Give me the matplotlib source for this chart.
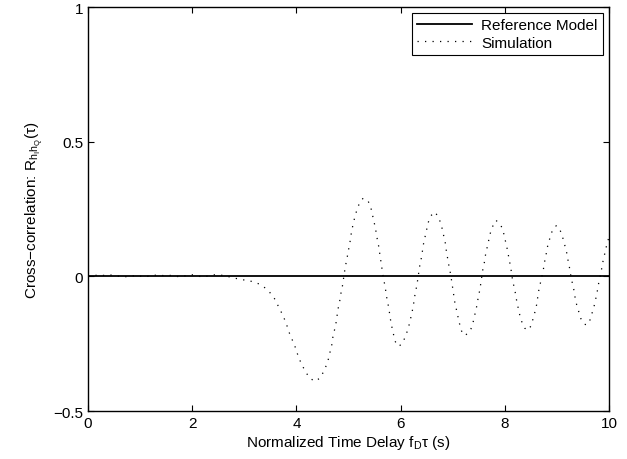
import matplotlib
matplotlib.use("Agg")
import matplotlib.pyplot as plt

plt.rcParams['font.family'] = ['Liberation Sans', 'DejaVu Sans']
plt.rcParams['mathtext.fontset'] = 'custom'
plt.rcParams['mathtext.rm'] = 'Liberation Sans'
plt.rcParams['mathtext.default'] = 'regular'

# reference model: zero cross-correlation
ref_x = [0, 10]
ref_y = [0, 0]

# simulation curve
sim_x = [0.0, 0.13, 0.27, 0.4, 0.54, 0.67, 0.81, 0.94, 1.08, 1.21, 1.35, 1.48,
         1.62, 1.75, 1.89, 2.02, 2.2, 2.34, 2.47, 2.6, 2.74, 2.87, 3.01, 3.15,
         3.28, 3.40, 3.49, 3.58, 3.64, 3.70, 3.76, 3.81, 3.85, 3.90, 3.96, 4.0,
         4.05, 4.10, 4.17, 4.24, 4.35, 4.46, 4.52, 4.58, 4.62, 4.65, 4.68, 4.70,
         4.73, 4.76, 4.78, 4.80, 4.83, 4.85, 4.88, 4.90, 4.92, 4.94, 4.97, 4.99,
         5.02, 5.04, 5.06, 5.09, 5.12, 5.16, 5.21, 5.28, 5.38, 5.43, 5.46, 5.49,
         5.52, 5.54, 5.57, 5.59, 5.61, 5.63, 5.65, 5.67, 5.70, 5.72, 5.74, 5.77,
         5.79, 5.81, 5.85, 5.90, 5.96, 6.03, 6.10, 6.15, 6.18, 6.21, 6.24, 6.26,
         6.28, 6.31, 6.33, 6.35, 6.37, 6.40, 6.42, 6.44, 6.47, 6.50, 6.53, 6.58,
         6.66, 6.73, 6.78, 6.81, 6.84, 6.87, 6.88, 6.91, 6.93, 6.96, 6.98, 7.0,
         7.02, 7.04, 7.07, 7.10, 7.13, 7.17, 7.23, 7.30, 7.35, 7.38, 7.41, 7.44,
         7.47, 7.49, 7.52, 7.54, 7.56, 7.58, 7.61, 7.63, 7.66, 7.69, 7.72, 7.76,
         7.83, 7.92, 7.97, 8.0, 8.03, 8.06, 8.08, 8.11, 8.13, 8.15, 8.18, 8.21,
         8.23, 8.26, 8.29, 8.33, 8.38, 8.44, 8.50, 8.54, 8.58, 8.61, 8.63, 8.65,
         8.68, 8.71, 8.74, 8.76, 8.79, 8.81, 8.85, 8.88, 8.94, 8.99, 9.04, 9.10,
         9.13, 9.17, 9.20, 9.22, 9.25, 9.27, 9.30, 9.33, 9.35, 9.38, 9.42, 9.46,
         9.53, 9.58, 9.63, 9.67, 9.71, 9.74, 9.77, 9.79, 9.82, 9.85, 9.87, 9.90,
         9.93, 9.96, 10.0]
sim_y = [0.0, 0.004, 0.003, 0.006, 0.002, -0.002, 0.0, 0.004, -0.003, 0.003,
         0.005, 0.002, 0.004, -0.002, 0.003, 0.006, -0.003, 0.003, 0.007, 0.003,
         -0.003, -0.009, -0.014, -0.019, -0.028, -0.043, -0.06, -0.083, -0.106,
         -0.129, -0.154, -0.178, -0.203, -0.228, -0.252, -0.278, -0.303, -0.328,
         -0.351, -0.375, -0.39, -0.377, -0.354, -0.328, -0.303, -0.277, -0.253,
         -0.225, -0.2, -0.173, -0.146, -0.12, -0.093, -0.067, -0.04, -0.014,
         0.012, 0.038, 0.064, 0.09, 0.116, 0.143, 0.169, 0.195, 0.22, 0.246,
         0.272, 0.29, 0.278, 0.254, 0.228, 0.202, 0.176, 0.149, 0.123, 0.097,
         0.071, 0.044, 0.018, -0.008, -0.035, -0.061, -0.087, -0.114, -0.14,
         -0.166, -0.205, -0.243, -0.26, -0.25, -0.22, -0.19, -0.167, -0.141,
         -0.114, -0.088, -0.062, -0.036, -0.009, 0.017, 0.043, 0.07, 0.096,
         0.121, 0.147, 0.173, 0.2, 0.225, 0.239, 0.218, 0.192, 0.166, 0.14,
         0.113, 0.087, 0.061, 0.035, 0.008, -0.018, -0.044, -0.07, -0.096,
         -0.123, -0.149, -0.175, -0.203, -0.22, -0.21, -0.195, -0.18, -0.155,
         -0.129, -0.103, -0.077, -0.051, -0.025, 0.002, 0.028, 0.054, 0.08,
         0.107, 0.133, 0.159, 0.183, 0.208, 0.192, 0.167, 0.141, 0.116, 0.09,
         0.064, 0.038, 0.01, -0.016, -0.041, -0.069, -0.094, -0.12, -0.146,
         -0.171, -0.192, -0.2, -0.185, -0.159, -0.131, -0.106, -0.08, -0.054,
         -0.028, -0.002, 0.025, 0.051, 0.077, 0.104, 0.13, 0.155, 0.18, 0.188,
         0.18, 0.154, 0.129, 0.103, 0.077, 0.051, 0.025, -0.002, -0.028,
         -0.054, -0.08, -0.106, -0.131, -0.157, -0.178, -0.18, -0.165, -0.14,
         -0.114, -0.088, -0.062, -0.036, -0.009, 0.017, 0.043, 0.069, 0.096,
         0.12, 0.146]

fig = plt.figure(figsize=(6.27, 4.6), dpi=100)
ax = fig.add_axes([0.1404, 0.1043, 0.8309, 0.8783])

ax.plot(ref_x, ref_y, color='black', lw=1.3, label='Reference Model')
ax.plot(sim_x, sim_y, color='black', lw=0.9, linestyle=(0, (1, 5)),
        label='Simulation')

ax.set_xlim(0, 10)
ax.set_ylim(-0.5, 1)
ax.set_xticks([0, 2, 4, 6, 8, 10])
ax.set_yticks([-0.5, 0, 0.5, 1])
ax.set_yticklabels(['\u22120.5', '0', '0.5', '1'])
ax.tick_params(direction='in', top=True, right=True, labelsize=11, length=4)
for s in ax.spines.values():
    s.set_linewidth(1.0)

ax.set_xlabel('Normalized Time Delay f$_D$\u03c4 (s)', fontsize=11, labelpad=2)
ax.set_ylabel('Cross\u2212correlation: R$_{h_I h_Q}$(\u03c4)', fontsize=11,
              labelpad=6)

leg = ax.legend(loc='upper right', fontsize=11, fancybox=False,
                edgecolor='black', framealpha=1, handlelength=3.6,
                borderaxespad=0.4, borderpad=0.35, labelspacing=0.2,
                handletextpad=0.6)
leg.get_frame().set_linewidth(0.8)

fig.savefig('out.png', dpi=100)
